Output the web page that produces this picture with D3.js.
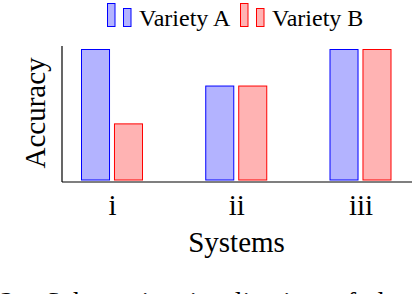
<!DOCTYPE html>
<html lang="en">
<head>
    <meta charset="UTF-8">
    <title>Accuracy by system</title>
    <script src="https://d3js.org/d3.v7.min.js"></script>
    <style>
        body { margin: 0; background: #fff; }
    </style>
</head>
<body>
    <svg width="412" height="294"></svg>
    <script>
        var systems = ["i", "ii", "iii"];
        var series = ["Variety A", "Variety B"];
        var varietyA = [1.0, 0.72, 1.0];
        var varietyB = [0.43, 0.72, 1.0];

        var fills = ["#b3b3ff", "#ffb3b3"];
        var strokes = ["#0000ff", "#ff0000"];
        var serif = "'Liberation Serif', 'Times New Roman', Times, serif";

        var svg = d3.select("svg");

        var x = d3.scalePoint().domain(systems).range([112, 360.5]);
        var inner = d3.scaleBand().domain(series).range([-30.5, 30.5]).paddingInner(0.15);
        var y = d3.scaleLinear().domain([0, 1]).range([180, 49.5]);

        // axis lines (no ticks)
        svg.append("line")
            .attr("x1", 62).attr("x2", 62)
            .attr("y1", 46).attr("y2", 182)
            .style("stroke", "#000").style("stroke-width", 1.2);
        svg.append("line")
            .attr("x1", 62).attr("x2", 412)
            .attr("y1", 182).attr("y2", 182)
            .style("stroke", "#000").style("stroke-width", 1.2);

        var rows = [];
        systems.forEach(function(s, i) {
            rows.push({ sys: s, ser: series[0], k: 0, v: varietyA[i] });
            rows.push({ sys: s, ser: series[1], k: 1, v: varietyB[i] });
        });

        svg.append("g")
            .selectAll("rect.bar")
            .data(rows)
            .join("rect")
            .classed("bar", true)
            .attr("x", function(d) { return x(d.sys) + inner(d.ser); })
            .attr("width", inner.bandwidth())
            .attr("y", function(d) { return y(d.v); })
            .attr("height", function(d) { return y(0) - y(d.v); })
            .style("fill", function(d) { return fills[d.k]; })
            .style("stroke", function(d) { return strokes[d.k]; })
            .style("stroke-width", 1);

        // tick labels
        var xAxis = d3.axisBottom(x).tickSize(0);
        var gx = svg.append("g").attr("transform", "translate(0,182)").call(xAxis);
        gx.select(".domain").remove();
        gx.selectAll("text")
            .attr("y", 33).attr("dy", null)
            .style("font-size", "29px")
            .style("font-family", serif)
            .style("fill", "#000");

        // axis titles
        svg.append("text")
            .attr("x", 236.5).attr("y", 252)
            .attr("text-anchor", "middle")
            .style("font-family", serif)
            .style("font-size", "29px")
            .text("Systems");
        svg.append("text")
            .attr("transform", "translate(45,113) rotate(-90)")
            .attr("text-anchor", "middle")
            .style("font-family", serif)
            .style("font-size", "29px")
            .text("Accuracy");

        // legend
        var legendX = [107, 240];
        var leg = svg.append("g")
            .selectAll("g.leg")
            .data(series)
            .join("g")
            .classed("leg", true)
            .attr("transform", function(d, i) { return "translate(" + legendX[i] + ",0)"; });
        leg.append("rect")
            .attr("x", 0.5).attr("y", 3.5).attr("width", 7.5).attr("height", 23)
            .style("fill", function(d, i) { return fills[i]; })
            .style("stroke", function(d, i) { return strokes[i]; });
        leg.append("rect")
            .attr("x", 16.5).attr("y", 8.5).attr("width", 7.5).attr("height", 18)
            .style("fill", function(d, i) { return fills[i]; })
            .style("stroke", function(d, i) { return strokes[i]; });
        leg.append("text")
            .attr("x", 32).attr("y", 26)
            .style("font-family", serif)
            .style("font-size", "24px")
            .text(function(d) { return d; });

        // caption, cut off at the bottom edge as in the source figure
        var cap = svg.append("text").attr("y", 311)
            .style("font-family", serif)
            .style("font-size", "28px");
        cap.append("tspan").attr("x", 0).style("font-weight", "bold").text("2:");
        cap.append("tspan").attr("x", 45).attr("word-spacing", "7px")
            .text("Schematic visualization of the");
    </script>
</body>
</html>
